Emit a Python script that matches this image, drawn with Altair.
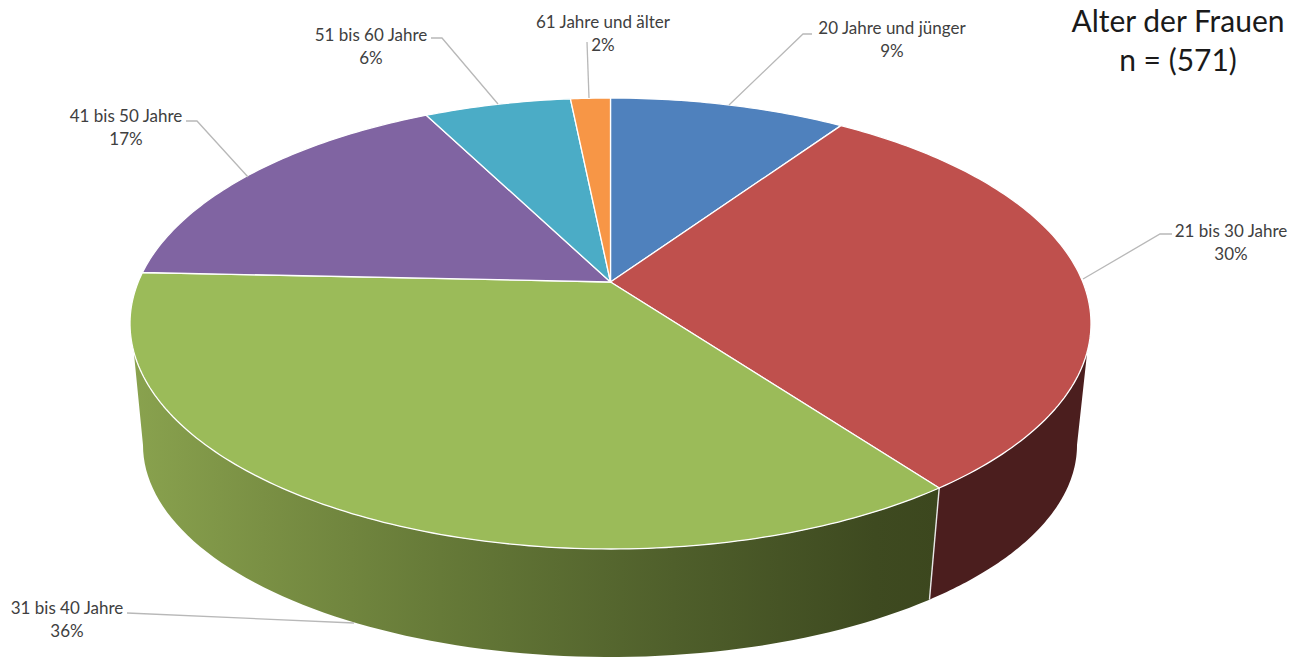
import math
import altair as alt
import numpy as np

# --- chart values -----------------------------------------------------
categories = ["20 Jahre und jünger", "21 bis 30 Jahre", "31 bis 40 Jahre",
              "41 bis 50 Jahre", "51 bis 60 Jahre", "61 Jahre und älter"]
shares = [9.5, 30.4, 35.8, 16.8, 5.9, 1.6]
percent_labels = ["9%", "30%", "36%", "17%", "6%", "2%"]
slice_colors = ["#4F81BD", "#BF504D", "#9BBB59", "#8064A2", "#4BACC6", "#F79646"]
title_lines = ["Alter der Frauen", "n = (571)"]

# --- layout (image pixels; chart origin sits at 8,8) --------------------
OFF = 8
CX, CY, RX, RY = 610.5, 323.5, 480.5, 225.5      # top face
BCX, BCY, BRX, BRY = 610.0, 445.0, 467.0, 212.0  # bottom rim
PERSP = -0.184                                    # apex shift of the tilted disc
TANGENT = math.radians(7.2)
label_centres = [(892, 29), (1231, 232), (67, 609), (126, 117), (371, 36), (603, 23)]
title_centres = [(1178, 23), (1178, 62)]
LINE_GAP = 23
leaders = [
    [(812, 34), (803, 34), (729, 105)],
    [(1172, 234), (1160, 234), (1083, 279)],
    [(127, 613), (354, 623)],
    [(186, 121), (197, 121), (248, 177)],
    [(431, 38), (442, 38), (498, 104)],
    [(587, 42), (589, 98)],
]


def disc(frac):
    a = 2 * math.pi * frac
    u, v = math.sin(a), math.cos(a)
    d = 1 - PERSP * v
    return u * math.sqrt(1 - PERSP ** 2) / d, (v - PERSP) / d


def top(u, v):
    return [CX + RX * u - OFF, CY - RY * v - OFF]


def phi_of(frac):
    u, v = disc(frac)
    return math.atan2(-v, u)


def b_end(p):
    # the silhouette edges run to the widest point of the bottom rim
    if abs(p - TANGENT) < 1e-9:
        return 0.0
    if abs(p - (math.pi - TANGENT)) < 1e-9:
        return math.pi
    return p


def side(p0, p1):
    pts = [[CX + RX * math.cos(p) - OFF, CY + RY * math.sin(p) - OFF]
           for p in np.linspace(p0, p1, 80)]
    pts += [[BCX + BRX * math.cos(p) - OFF, BCY + BRY * math.sin(p) - OFF]
            for p in np.linspace(b_end(p1), b_end(p0), 80)]
    pts.append(pts[0])
    return pts


def fc(polys, colors=None):
    return alt.InlineData(
        values={"type": "FeatureCollection", "features": [
            {"type": "Feature",
             "properties": {"c": (colors[i] if colors else "x")},
             "geometry": {"type": "Polygon", "coordinates": [p]}}
            for i, p in enumerate(polys)]},
        format=alt.DataFormat(type="json", property="features"))


proj = alt.Projection(type="identity", scale=1, translate=[0, 0])

cum = np.cumsum([0] + shares) / sum(shares)
apex = [CX - OFF, CY + PERSP * RY - OFF]
slices = []
for s, e in zip(cum[:-1], cum[1:]):
    ring = [top(*disc(f)) for f in np.linspace(s, e, max(12, int((e - s) * 400)))]
    slices.append([apex] + ring + [apex])

boundary = phi_of(cum[2])

green_side = side(boundary, math.pi - TANGENT)
red_side = side(TANGENT, boundary)

green_gradient = alt.Gradient(
    gradient="linear", x1=1, x2=0, y1=0, y2=0,
    stops=[
        alt.GradientStop(color="#3C471E", offset=0.0),
        alt.GradientStop(color="#3E4A20", offset=0.08),
        alt.GradientStop(color="#4F5F2B", offset=0.33),
        alt.GradientStop(color="#667A38", offset=0.62),
        alt.GradientStop(color="#7A9044", offset=0.84),
        alt.GradientStop(color="#89A24E", offset=1.0),
    ])

green_layer = alt.Chart(fc([green_side])).mark_geoshape(
    fill=green_gradient, strokeWidth=0).properties(projection=proj)
red_layer = alt.Chart(fc([red_side])).mark_geoshape(
    fill="#4B1E1E", strokeWidth=0).properties(projection=proj)
seam = [[CX + RX * math.cos(boundary) - OFF, CY + RY * math.sin(boundary) - OFF],
        [BCX + BRX * math.cos(boundary) - OFF, BCY + BRY * math.sin(boundary) - OFF]]
seam_layer = alt.Chart(alt.Data(values=[
    {"x": seam[0][0], "y": seam[0][1], "o": 0},
    {"x": seam[1][0], "y": seam[1][1], "o": 1}])).mark_line(
    color="#E8E8E8", strokeWidth=1.4).encode(
    x=alt.X("x:Q", scale=None, axis=None),
    y=alt.Y("y:Q", scale=None, axis=None),
    order="o:Q")

top_layer = alt.Chart(fc(slices, slice_colors)).mark_geoshape(
    stroke="#FFFFFF", strokeWidth=1.3, strokeJoin="round").encode(
    fill=alt.Fill("properties.c:N", scale=None)).properties(projection=proj)

leader_rows = []
for i, line in enumerate(leaders):
    for j, (x, y) in enumerate(line):
        leader_rows.append({"k": i, "o": j, "x": x - OFF, "y": y - OFF})
leader_layer = alt.Chart(alt.Data(values=leader_rows)).mark_line(
    color="#B8B8B8", strokeWidth=1.3).encode(
    x=alt.X("x:Q", scale=None, axis=None),
    y=alt.Y("y:Q", scale=None, axis=None),
    detail="k:N", order="o:Q")

label_rows = []
for name, pct, (x, y) in zip(categories, percent_labels, label_centres):
    label_rows.append({"t": name, "x": x - OFF, "y": y - OFF})
    label_rows.append({"t": pct, "x": x - OFF, "y": y + LINE_GAP - OFF})
label_layer = alt.Chart(alt.Data(values=label_rows)).mark_text(
    font="Lato", fontSize=17, color="#404040", align="center", baseline="middle").encode(
    x=alt.X("x:Q", scale=None, axis=None),
    y=alt.Y("y:Q", scale=None, axis=None),
    text="t:N")

title_rows = [{"t": t, "x": x - OFF, "y": y - OFF} for t, (x, y) in zip(title_lines, title_centres)]
title_layer = alt.Chart(alt.Data(values=title_rows)).mark_text(
    font="Lato", fontSize=30, color="#1A1A1A", align="center", baseline="middle").encode(
    x=alt.X("x:Q", scale=None, axis=None),
    y=alt.Y("y:Q", scale=None, axis=None),
    text="t:N")

chart = alt.layer(
    green_layer, red_layer, seam_layer, top_layer, leader_layer, label_layer, title_layer
).properties(
    width=1291, height=649, padding=0,
    autosize=alt.AutoSizeParams(type="none"),
    background="#FFFFFF",
).configure_view(stroke=None)

chart.save("out.html", embed_options={"renderer": "svg", "actions": False})
